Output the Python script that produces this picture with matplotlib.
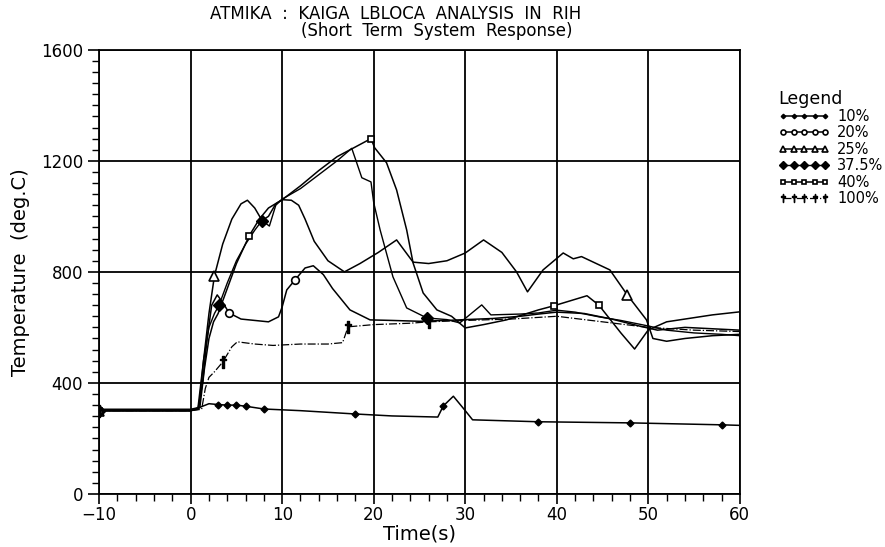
import matplotlib
matplotlib.use('Agg')
import matplotlib.pyplot as plt
from matplotlib.ticker import MultipleLocator

plt.rcParams['font.family'] = ['DejaVu Sans']

# time (s) / temperature (deg.C) pairs
t_10 = [-10, 0, 1, 2, 3, 4, 5, 6, 8, 12, 18, 22, 27, 27.6, 28.7, 30, 30.8, 38, 48, 58, 60]
T_10 = [305, 305, 312, 325, 322, 320, 320, 316, 306, 300, 288, 281, 277, 317, 352, 300, 267, 260, 256, 249, 247]

t_20 = [-10, 0, 0.8, 1.3, 1.8, 2.3, 2.9, 3.5, 4.2, 5.5, 7, 8.5, 9.6, 10, 10.5, 11.4, 12.5, 13.4,
        14.5, 15.5, 17.4, 19.6, 22, 25, 28, 30, 33, 36, 38, 40, 43, 46, 49, 51, 54, 57, 60]
T_20 = [300, 300, 305, 400, 560, 680, 717, 690, 652, 630, 625, 620, 638, 674, 735, 771, 814, 822,
        790, 740, 663, 627, 625, 622, 625, 628, 632, 640, 648, 655, 650, 630, 605, 590, 600, 595, 590]

t_25 = [-10, 0, 0.8, 1.3, 2, 2.6, 3.5, 4.5, 5.5, 6.2, 7, 7.8, 8.5, 9.3, 10, 11, 11.8, 12.5, 13.5,
        15, 16.8, 18.5, 20.5, 22.5, 24.3, 26, 28, 30, 32, 34, 35.6, 36.8, 38.5, 40.7, 41.8, 42.7,
        45.8, 47.7, 49.8, 50.5, 52, 54, 57, 60]
T_25 = [300, 300, 310, 450, 650, 786, 900, 990, 1045, 1058, 1030, 985, 1000, 1045, 1060, 1058, 1040, 990, 910,
        840, 800, 830, 870, 915, 835, 830, 840, 868, 915, 870, 800, 728, 807, 868, 847, 855,
        807, 717, 627, 560, 550, 560, 570, 575]

t_375 = [-10, 0, 0.9, 1.4, 2, 2.6, 3.1, 4, 5, 6, 7, 7.8, 8.6, 9.3, 10, 12, 14, 16, 17.6, 18.7, 19.7,
         20, 20.7, 22.1, 23.6, 25.8, 28, 29.4, 31.8, 32.8, 36, 38, 40, 42, 44.6, 47, 50, 52, 55, 58, 60]
T_375 = [300, 300, 310, 480, 600, 650, 680, 760, 840, 900, 950, 985, 965, 1040, 1062, 1100, 1150, 1200, 1245, 1139, 1124,
         1049, 951, 782, 670, 634, 628, 616, 681, 645, 648, 652, 662, 655, 638, 625, 605, 590, 580, 575, 570]

t_40 = [-10, 0, 1.0, 1.5, 2, 2.5, 3, 4, 5, 6.4, 7.5, 8.5, 10, 12, 14, 16, 18, 19.7, 20.1, 21.4, 22.5,
        23.6, 24.3, 25.4, 26.9, 28.5, 30, 32, 34.5, 38, 39.7, 43.3, 44.6, 47, 48.5, 50, 52, 55, 57, 60]
T_40 = [300, 300, 310, 450, 560, 620, 650, 740, 830, 930, 990, 1030, 1060, 1110, 1165, 1215, 1250, 1280, 1247, 1193, 1095,
        951, 832, 724, 663, 640, 598, 610, 627, 663, 678, 714, 680, 580, 522, 591, 620, 635, 645, 656]

t_100 = [-10, 0, 1.2, 1.6, 2, 2.6, 3.5, 4.5, 5.1, 7, 9, 12, 15, 16.6, 17.2, 20, 24, 26, 30, 35, 40, 45, 50, 55, 60]
T_100 = [300, 300, 305, 380, 420, 440, 475, 530, 548, 540, 535, 540, 540, 545, 602, 610, 615, 620, 625, 630, 640, 620, 600, 590, 585]

labels = ['10%', '20%', '25%', '37.5%', '40%', '100%']

fig = plt.figure(figsize=(8.85, 5.47), dpi=100)
ax = fig.add_axes([0.112, 0.097, 0.724, 0.812])

ax.plot(t_10, T_10, color='k', lw=1.1, marker='D', ms=3.5, mfc='k',
        markevery=[0, 4, 5, 6, 7, 8, 10, 13, 17, 18, 19], label=labels[0])
ax.plot(t_20, T_20, color='k', lw=1.1, marker='o', ms=5.5, mfc='w', mew=1.2,
        markevery=[0, 8, 15], label=labels[1])
ax.plot(t_25, T_25, color='k', lw=1.1, marker='^', ms=7, mfc='w', mew=1.2,
        markevery=[0, 5, 37], label=labels[2])
ax.plot(t_375, T_375, color='k', lw=1.0, marker='D', ms=6, mfc='k',
        markevery=[0, 6, 11, 25], label=labels[3])
ax.plot(t_40, T_40, color='k', lw=1.1, marker='s', ms=5, mfc='w', mew=1.2,
        markevery=[0, 9, 17, 30, 32], label=labels[4])
ax.plot(t_100, T_100, color='k', lw=0.9, ls='-.', marker=r'$\dagger$', ms=9,
        markevery=[0, 6, 14, 17], label=labels[5])

ax.set_xlim(-10, 60)
ax.set_ylim(0, 1600)
ax.xaxis.set_major_locator(MultipleLocator(10))
ax.xaxis.set_minor_locator(MultipleLocator(2))
ax.yaxis.set_major_locator(MultipleLocator(400))
ax.yaxis.set_minor_locator(MultipleLocator(40))
ax.tick_params(which='major', direction='out', length=8, width=1.2, labelsize=12, colors='k')
ax.tick_params(which='minor', direction='out', length=5, width=1.0)
ax.tick_params(axis='x', which='major', length=7, pad=2)
ax.grid(True, which='major', color='k', lw=1.3)
for s in ax.spines.values():
    s.set_linewidth(1.3)

ax.set_xlabel('Time(s)', fontsize=14, labelpad=0)
ax.set_ylabel('Temperature  (deg.C)', fontsize=14, labelpad=8)

fig.text(0.447, 0.975, 'ATMIKA  :  KAIGA  LBLOCA  ANALYSIS  IN  RIH', ha='center', va='center', fontsize=12)
fig.text(0.493, 0.943, '(Short  Term  System  Response)', ha='center', va='center', fontsize=12)

leg = ax.legend(loc='upper left', bbox_to_anchor=(1.04, 0.94), numpoints=5, frameon=False,
                title='Legend', fontsize=10.5, title_fontsize=12.5, handlelength=3.5,
                handletextpad=0.5, labelspacing=0.1, markerscale=0.65)
leg._legend_box.align = 'left'

fig.savefig('out.png', dpi=100)
